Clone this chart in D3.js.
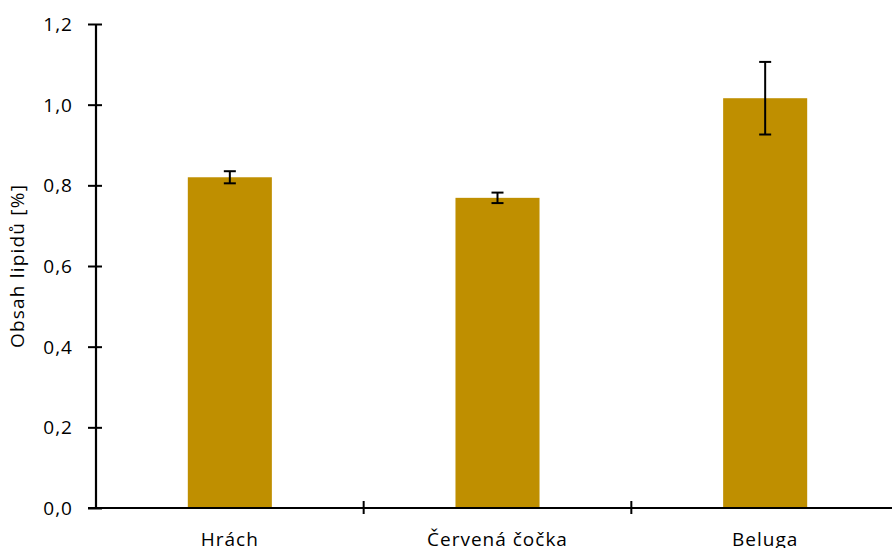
<!DOCTYPE html>
<html>
<head>
<meta charset="utf-8">
<script src="https://cdn.jsdelivr.net/npm/d3@7/dist/d3.min.js"></script>
<style>
  html, body { margin: 0; padding: 0; background: #fff; }
  svg { display: block; }
  text { font-family: "Open Sans", Lato, sans-serif; fill: #000; }
</style>
</head>
<body>
<svg id="chart" width="892" height="548"></svg>
<script>
// Lipid content per legume sample, with standard deviation
const categories = ["Hrách", "Červená čočka", "Beluga"];
const values = [0.820, 0.769, 1.016];
const errors = [0.015, 0.013, 0.090];
const yTicks = [0, 0.2, 0.4, 0.6, 0.8, 1.0, 1.2];

const svg = d3.select("#chart");
const margin = { left: 96, top: 24, right: -7, bottom: 40 };
const width = 892;
const height = 548;

const x = d3.scaleBand()
  .domain(categories)
  .range([margin.left, width - margin.right])
  .paddingInner(0.686)
  .paddingOuter(0.343);

// band step used for category divider ticks
const band = d3.scaleBand().domain(categories).range([margin.left, width - margin.right]);

const y = d3.scaleLinear()
  .domain([0, 1.2])
  .range([height - margin.bottom, margin.top]);

const fmt = d => d.toFixed(1).replace(".", ",");
const gold = "#BF8F00";
const fontSize = "19px";
const spacing = "1px";

// bars
svg.append("g").selectAll("rect")
  .data(categories)
  .join("rect")
  .attr("x", d => x(d))
  .attr("width", x.bandwidth())
  .attr("y", (d, i) => y(values[i]))
  .attr("height", (d, i) => y(0) - y(values[i]))
  .attr("fill", gold);

// error bars
const eb = svg.append("g").attr("stroke", "#000").attr("stroke-width", 2);
categories.forEach((c, i) => {
  const cx = x(c) + x.bandwidth() / 2;
  const y1 = y(values[i] + errors[i]);
  const y2 = y(values[i] - errors[i]);
  eb.append("line").attr("x1", cx).attr("x2", cx).attr("y1", y1).attr("y2", y2);
  eb.append("line").attr("x1", cx - 6).attr("x2", cx + 6).attr("y1", y1).attr("y2", y1);
  eb.append("line").attr("x1", cx - 6).attr("x2", cx + 6).attr("y1", y2).attr("y2", y2);
});

// y axis
const yAxis = svg.append("g")
  .attr("transform", `translate(${margin.left},0)`)
  .call(d3.axisLeft(y).tickValues(yTicks).tickFormat(fmt).tickSize(7).tickPadding(16));
yAxis.select(".domain").attr("stroke-width", 2.2).attr("d", `M0,${y(1.2)}V${y(0)}`);
yAxis.selectAll(".tick line").attr("x1", -8).attr("x2", 6).attr("stroke-width", 2);
yAxis.selectAll(".tick text")
  .style("font-size", fontSize)
  .style("letter-spacing", spacing)
  .attr("dy", "0.35em")
  .attr("fill", "#000");

// x axis
const base = y(0);
const xAxis = svg.append("g");
xAxis.append("line")
  .attr("x1", margin.left - 8).attr("x2", width)
  .attr("y1", base).attr("y2", base)
  .attr("stroke", "#000").attr("stroke-width", 2.2);
xAxis.selectAll("line.div")
  .data(categories.slice(1))
  .join("line")
  .attr("class", "div")
  .attr("x1", d => band(d)).attr("x2", d => band(d))
  .attr("y1", base - 7).attr("y2", base + 6)
  .attr("stroke", "#000").attr("stroke-width", 2);
xAxis.selectAll("text")
  .data(categories)
  .join("text")
  .attr("x", d => x(d) + x.bandwidth() / 2)
  .attr("y", 546)
  .attr("text-anchor", "middle")
  .style("font-size", fontSize)
  .style("letter-spacing", spacing)
  .text(d => d);

// y axis title
svg.append("text")
  .attr("transform", `translate(24,${(y(0) + y(1.2)) / 2}) rotate(-90)`)
  .attr("text-anchor", "middle")
  .style("font-size", fontSize)
  .style("letter-spacing", "1.2px")
  .text("Obsah lipidů [%]");
</script>
</body>
</html>
